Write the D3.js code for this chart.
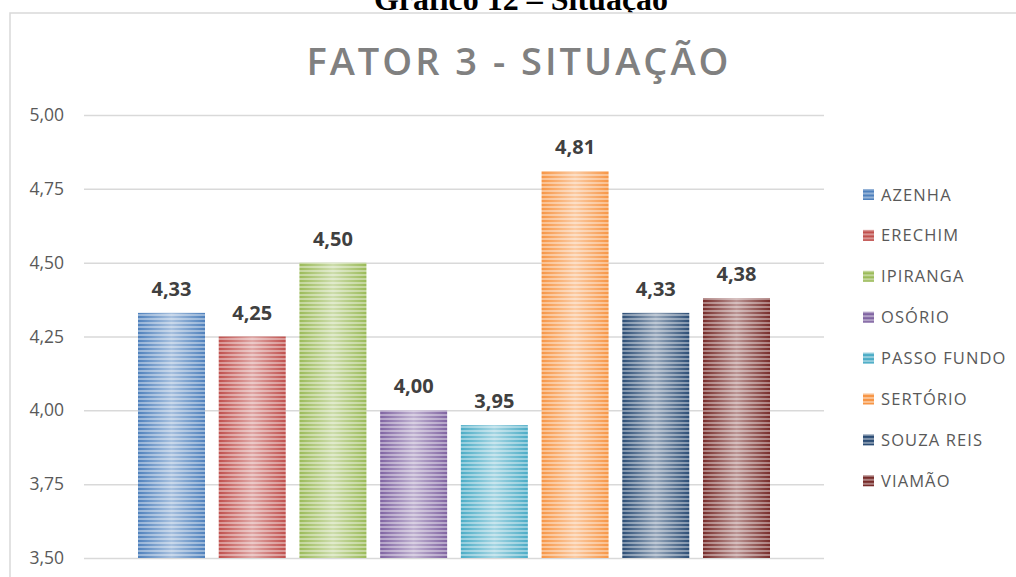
<!DOCTYPE html>
<html>
<head>
<meta charset="utf-8">
<script src="https://cdn.jsdelivr.net/npm/d3@7"></script>
<style>
  body { margin: 0; background: #fff; }
  svg { display: block; font-family: 'Open Sans', sans-serif; }
</style>
</head>
<body>
<svg id="chart" width="1016" height="577"></svg>
<script>
// chart data
const categories = ['AZENHA', 'ERECHIM', 'IPIRANGA', 'OSÓRIO', 'PASSO FUNDO', 'SERTÓRIO', 'SOUZA REIS', 'VIAMÃO'];
const values = [4.33, 4.25, 4.50, 4.00, 3.95, 4.81, 4.33, 4.38];
const colors = ['#4f81bd', '#c0504d', '#9bbb59', '#8064a2', '#4bacc6', '#f79646', '#2c4d75', '#772c2a'];
const yTicks = [3.50, 3.75, 4.00, 4.25, 4.50, 4.75, 5.00];
const caption = 'Gráfico 12 – Situação';
const title = 'FATOR 3 - SITUAÇÃO';

const svg = d3.select('#chart');
const fmt = (v) => d3.format('.2f')(v).replace('.', ',');

// caption above the frame, cut off by the page edge
svg.append('text')
  .attr('x', 521).attr('y', 10)
  .attr('text-anchor', 'middle')
  .attr('font-family', "'Liberation Serif', serif")
  .attr('font-weight', 'bold')
  .attr('font-size', 32)
  .attr('fill', '#000')
  .text(caption);

// outer chart frame (white inside, hides the caption tail)
svg.append('rect')
  .attr('x', 10).attr('y', 13)
  .attr('width', 1030).attr('height', 600)
  .attr('fill', '#fff')
  .attr('stroke', '#d9d9d9')
  .attr('stroke-width', 1.5);

svg.append('text')
  .attr('x', 519).attr('y', 75)
  .attr('text-anchor', 'middle')
  .attr('font-size', 38)
  .attr('font-weight', 600)
  .attr('letter-spacing', 3)
  .attr('fill', '#808080')
  .text(title);

const y = d3.scaleLinear().domain([3.5, 5]).range([558, 115]);
const x = d3.scaleBand().domain(categories).range([138, 770]).paddingInner(0.17).paddingOuter(0);

// gridlines + tick labels
const axis = svg.append('g')
  .attr('transform', 'translate(84,0)')
  .call(d3.axisLeft(y).tickValues(yTicks).tickFormat(fmt).tickSize(-740).tickPadding(20));
axis.select('.domain').remove();
axis.selectAll('line').attr('stroke', '#d9d9d9').attr('stroke-width', 1.5);
axis.selectAll('text')
  .attr('font-family', "'Open Sans', sans-serif")
  .attr('font-size', 17.5)
  .attr('fill', '#595959');

// striped fills
const defs = svg.append('defs');
const shade = defs.append('linearGradient').attr('id', 'shade');
shade.append('stop').attr('offset', '0%').attr('stop-color', '#fff').attr('stop-opacity', 0);
shade.append('stop').attr('offset', '50%').attr('stop-color', '#fff').attr('stop-opacity', 0.5);
shade.append('stop').attr('offset', '100%').attr('stop-color', '#fff').attr('stop-opacity', 0);

colors.forEach((c, i) => {
  const p = defs.append('pattern')
    .attr('id', `stripe${i}`)
    .attr('patternUnits', 'userSpaceOnUse')
    .attr('width', 8).attr('height', 4);
  p.append('rect').attr('width', 8).attr('height', 4).attr('fill', c);
  p.append('rect').attr('y', 2).attr('width', 8).attr('height', 2)
    .attr('fill', '#fff').attr('opacity', 0.4);
});

const bars = svg.append('g');
categories.forEach((cat, i) => {
  const bx = x(cat);
  const by = y(values[i]);
  const h = y(3.5) - by;
  bars.append('rect')
    .attr('x', bx).attr('y', by)
    .attr('width', x.bandwidth()).attr('height', h)
    .attr('fill', `url(#stripe${i})`);
  bars.append('rect')
    .attr('x', bx).attr('y', by)
    .attr('width', x.bandwidth()).attr('height', h)
    .attr('fill', 'url(#shade)');
  bars.append('text')
    .attr('x', bx + x.bandwidth() / 2)
    .attr('y', by - 17)
    .attr('text-anchor', 'middle')
    .attr('font-size', 20)
    .attr('font-weight', 'bold')
    .attr('fill', '#404040')
    .text(fmt(values[i]));
});

// legend
const legend = svg.append('g').attr('transform', 'translate(863,194.5)');
categories.forEach((cat, i) => {
  const row = legend.append('g').attr('transform', `translate(0,${i * 40.9})`);
  row.append('rect')
    .attr('x', 0).attr('y', -5.5)
    .attr('width', 11).attr('height', 11)
    .attr('fill', `url(#stripe${i})`);
  row.append('text')
    .attr('x', 18).attr('y', 6)
    .attr('font-size', 16.5)
    .attr('letter-spacing', 1.1)
    .attr('fill', '#595959')
    .text(cat);
});
</script>
</body>
</html>
